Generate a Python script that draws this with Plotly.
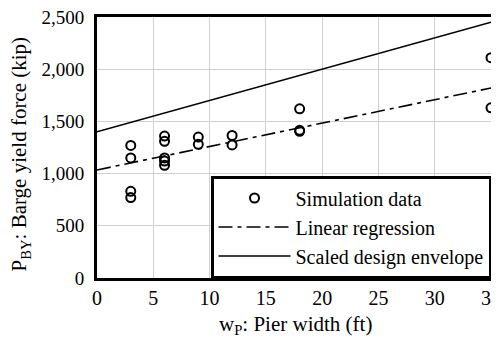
import plotly.graph_objects as go

# Simulation data
sim_x = [3, 3, 3, 3, 6, 6, 6, 6, 6, 9, 9, 12, 12, 18, 18, 18, 35, 35]
sim_y = [1270, 1150, 830, 770, 1360, 1310, 1150, 1120, 1080, 1350, 1280, 1365, 1275, 1620, 1415, 1405, 2110, 1630]

# Linear regression
reg_x = [0, 35]
reg_y = [1035, 1820]

# Scaled design envelope
env_x = [0, 35]
env_y = [1400, 2450]

x_ticks = [0, 5, 10, 15, 20, 25, 30, 35]
y_ticks = [0, 500, 1000, 1500, 2000, 2500]
y_tick_labels = ["0", "500", "1,000", "1,500", "2,000", "2,500"]

x_title = "w<sub>P</sub>: Pier width (ft)"
y_title = "P<sub>BY</sub>: Barge yield force (kip)"

font_family = "Liberation Serif"

fig = go.Figure()
fig.add_trace(go.Scatter(
    x=sim_x, y=sim_y, mode="markers", name="Simulation data",
    marker=dict(symbol="circle-open", size=9, color="black", line=dict(width=2, color="black")),
    cliponaxis=False,
))
fig.add_trace(go.Scatter(
    x=reg_x, y=reg_y, mode="lines", name="Linear regression",
    line=dict(color="black", width=1.6, dash="14px,5px,4px,5px"),
))
fig.add_trace(go.Scatter(
    x=env_x, y=env_y, mode="lines", name="Scaled design envelope",
    line=dict(color="black", width=1.6),
))

fig.update_layout(
    width=491, height=329,
    margin=dict(l=89, r=8, t=9, b=59, pad=0),
    paper_bgcolor="white", plot_bgcolor="white",
    font=dict(family=font_family, size=19, color="black"),
    showlegend=True,
    legend=dict(
        x=1, y=0, xanchor="right", yanchor="bottom",
        bgcolor="white", bordercolor="black", borderwidth=2.5,
        font=dict(family=font_family, size=20, color="black"),
        itemwidth=72, tracegroupgap=0,
    ),
    xaxis=dict(
        range=[0, 35], tickvals=x_ticks,
        showgrid=True, gridcolor="#d0d0d0", gridwidth=1,
        showline=True, linecolor="black", linewidth=2.7, mirror=True,
        ticks="", zeroline=False, automargin=False,
        ticklabeloverflow="allow",
        tickfont=dict(family=font_family, size=20),
    ),
    yaxis=dict(
        range=[0, 2500], tickvals=y_ticks, ticktext=y_tick_labels,
        showgrid=True, gridcolor="#d0d0d0", gridwidth=1,
        showline=True, linecolor="black", linewidth=2.7, mirror=True,
        ticks="", zeroline=False, automargin=False, ticklabelstandoff=6,
        ticklabeloverflow="allow",
        tickfont=dict(family=font_family, size=19),
    ),
    annotations=[
        dict(text=x_title, xref="paper", yref="paper", x=0.505, y=0,
             xanchor="center", yanchor="middle", yshift=-47, showarrow=False,
             font=dict(family=font_family, size=21, color="black")),
        dict(text=y_title, xref="paper", yref="paper", x=0, y=0.473,
             xanchor="center", yanchor="middle", xshift=-77, textangle=-90,
             showarrow=False,
             font=dict(family=font_family, size=21, color="black")),
    ],
)

fig.write_html("out.html")
